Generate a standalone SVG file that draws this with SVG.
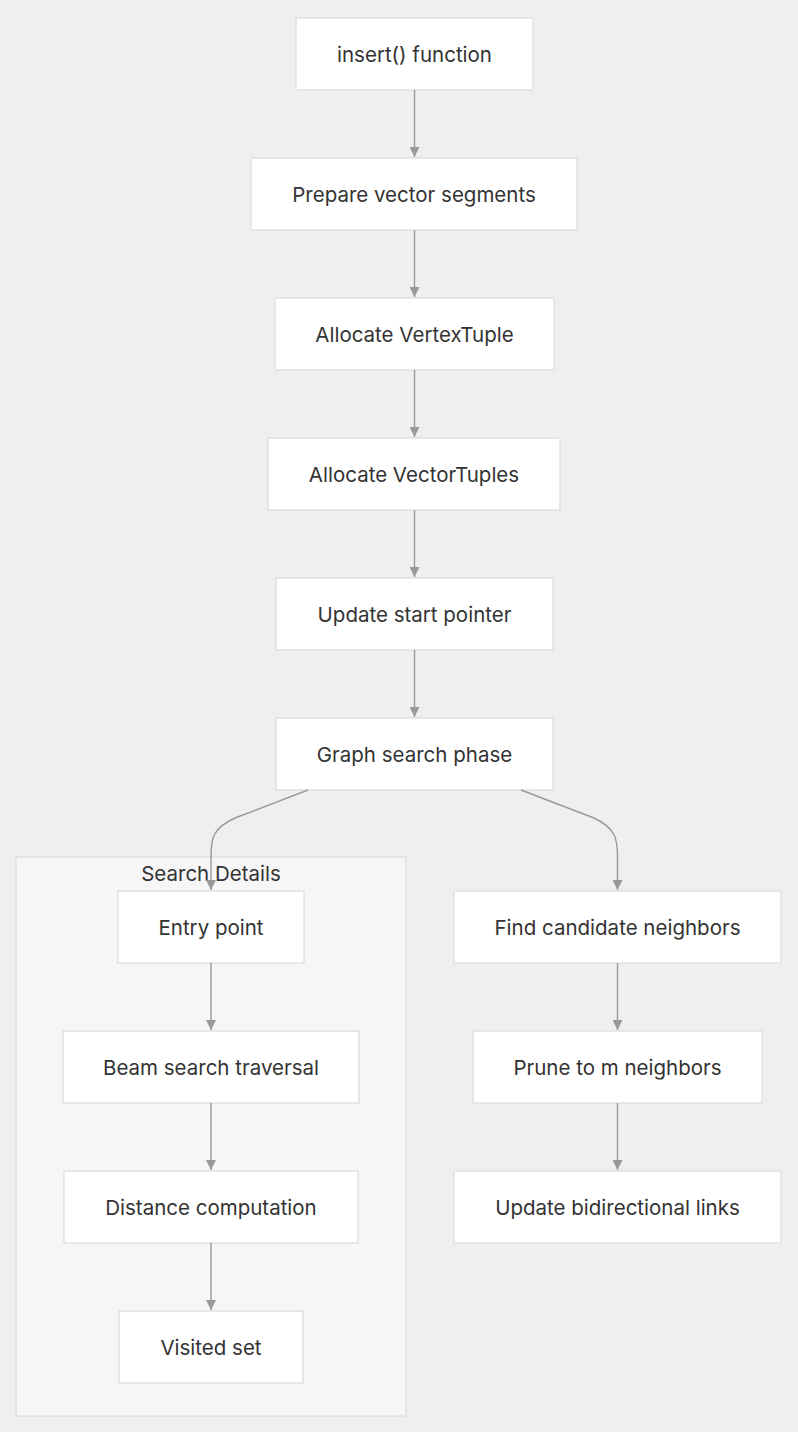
<svg xmlns="http://www.w3.org/2000/svg" width="798" height="1432" viewBox="0 0 798 1432">
<style>
.bg{fill:#f0efee}
.node rect{fill:#ffffff;stroke:#dddddd;stroke-width:1.3}
.cluster rect{fill:#f6f6f6;stroke:#dddddd;stroke-width:1.3}
text{font-family:Inter,"Noto Sans","Liberation Sans",sans-serif;font-size:20.5px;font-weight:400;fill:#333333;text-anchor:middle;dominant-baseline:central}
.edges path{fill:none;stroke:#999999;stroke-width:1.4;marker-end:url(#arr)}
</style>
<defs>
<marker id="arr" viewBox="0 0 10 10" refX="10" refY="5" markerWidth="10" markerHeight="10" markerUnits="userSpaceOnUse" orient="auto">
<path d="M0,0 L10,5 L0,10 z" fill="#999999"/>
</marker>
</defs>
<rect class="bg" x="0" y="0" width="798" height="1432"/>
<g id="cluster-search" class="cluster">
<rect x="16" y="857" width="390" height="559"/>
<text x="211" y="873">Search Details</text>
</g>
<g id="n-insert" class="node"><rect x="296" y="18" width="237" height="72"/><text x="414.5" y="54">insert() function</text></g>
<g id="n-prepare" class="node"><rect x="251" y="158" width="326" height="72"/><text x="414" y="194">Prepare vector segments</text></g>
<g id="n-vertex" class="node"><rect x="275" y="298" width="279" height="72"/><text x="414.5" y="334">Allocate VertexTuple</text></g>
<g id="n-vector" class="node"><rect x="268" y="438" width="292" height="72"/><text x="414" y="474">Allocate VectorTuples</text></g>
<g id="n-start" class="node"><rect x="276" y="578" width="277" height="72"/><text x="414.5" y="614">Update start pointer</text></g>
<g id="n-graph" class="node"><rect x="276" y="718" width="277" height="72"/><text x="414.5" y="754">Graph search phase</text></g>
<g id="n-entry" class="node"><rect x="118" y="891" width="186" height="72"/><text x="211" y="927">Entry point</text></g>
<g id="n-beam" class="node"><rect x="63" y="1031" width="296" height="72"/><text x="211" y="1067">Beam search traversal</text></g>
<g id="n-dist" class="node"><rect x="64" y="1171" width="294" height="72"/><text x="211" y="1207">Distance computation</text></g>
<g id="n-visited" class="node"><rect x="119" y="1311" width="184" height="72"/><text x="211" y="1347">Visited set</text></g>
<g id="n-find" class="node"><rect x="454" y="891" width="327" height="72"/><text x="617.5" y="927">Find candidate neighbors</text></g>
<g id="n-prune" class="node"><rect x="473" y="1031" width="289" height="72"/><text x="617.5" y="1067">Prune to m neighbors</text></g>
<g id="n-update" class="node"><rect x="454" y="1171" width="327" height="72"/><text x="617.5" y="1207">Update bidirectional links</text></g>
<g id="edges" class="edges">
<path d="M414.5,90 L414.5,157"/>
<path d="M414.5,230 L414.5,297"/>
<path d="M414.5,370 L414.5,437"/>
<path d="M414.5,510 L414.5,577"/>
<path d="M414.5,650 L414.5,717"/>
<path d="M308,790 L235,818 C213,828 211,838 211,856 L211,890"/>
<path d="M521,790 L594,818 C615,828 617.5,838 617.5,856 L617.5,890"/>
<path d="M211,963 L211,1030"/>
<path d="M211,1103 L211,1170"/>
<path d="M211,1243 L211,1310"/>
<path d="M617.5,963 L617.5,1030"/>
<path d="M617.5,1103 L617.5,1170"/>
</g>
</svg>
